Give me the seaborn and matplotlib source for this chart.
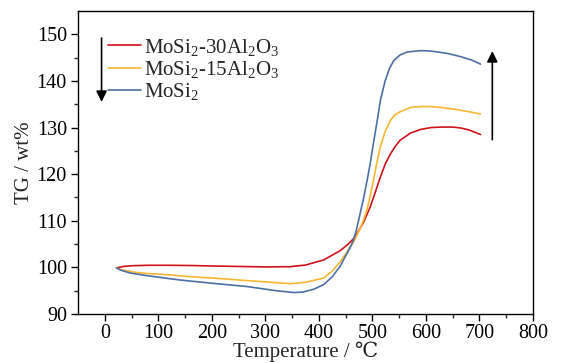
import numpy as np
import pandas as pd
import matplotlib
matplotlib.use('Agg')
import matplotlib.pyplot as plt
import seaborn as sns

# --- data ---
temp_30 = [22, 35, 50, 80, 120, 160, 200, 250, 300, 346, 375, 409, 440, 455, 465, 471, 484,
           496, 505, 515, 524, 534, 543, 552, 571, 590, 610, 630, 650, 665, 680, 702]
tg_30 = [99.9, 100.2, 100.35, 100.45, 100.45, 100.4, 100.3, 100.2, 100.1, 100.15, 100.5,
         101.6, 103.6, 105.0, 106.2, 107.2, 109.8, 113.0, 116.0, 119.4, 122.2, 124.4, 126.0,
         127.3, 128.8, 129.6, 130.0, 130.1, 130.1, 129.9, 129.5, 128.5]

temp_15 = [22, 30, 40, 60, 78, 120, 160, 203, 250, 300, 346, 375, 409, 425, 440, 453, 467,
           478, 484, 490, 496, 502, 508, 515, 524, 534, 543, 552, 571, 590, 610, 630, 660,
           680, 702]
tg_15 = [99.9, 99.5, 99.3, 98.9, 98.7, 98.4, 98.0, 97.7, 97.3, 96.9, 96.5, 96.8, 97.7, 99.2,
         101.2, 103.4, 105.9, 108.6, 110.3, 112.5, 115.3, 118.7, 122.3, 125.9, 129.2, 131.6,
         132.8, 133.4, 134.3, 134.5, 134.5, 134.3, 133.8, 133.4, 132.9]

temp_0 = [22, 30, 47, 80, 140, 200, 265, 320, 353, 370, 390, 409, 425, 440, 452, 460, 465,
          470, 476, 484, 490, 496, 501, 506, 510, 515, 524, 532, 540, 552, 565, 590, 610,
          640, 665, 685, 702]
tg_0 = [99.9, 99.4, 98.8, 98.2, 97.3, 96.6, 95.9, 95.0, 94.6, 94.7, 95.3, 96.3, 98.0, 100.3,
        102.9, 104.6, 106.0, 108.0, 111.0, 115.1, 118.6, 122.3, 126.0, 129.4, 132.2, 135.9,
        140.1, 142.7, 144.4, 145.6, 146.2, 146.5, 146.4, 145.9, 145.2, 144.5, 143.6]

labels = ['MoSi$_2$-30Al$_2$O$_3$', 'MoSi$_2$-15Al$_2$O$_3$', 'MoSi$_2$']
colors = ['#d0121b', '#f7b733', '#4d6fa3']
xticks = [0, 100, 200, 300, 400, 500, 600, 700, 800]
yticks = [90, 100, 110, 120, 130, 140, 150]

sns.set_style('ticks')
plt.rcParams['font.family'] = ['Liberation Serif', 'DejaVu Serif', 'DejaVu Sans']
plt.rcParams['mathtext.fontset'] = 'custom'
plt.rcParams['mathtext.rm'] = 'Liberation Serif'
plt.rcParams['mathtext.it'] = 'Liberation Serif:italic'
plt.rcParams['mathtext.default'] = 'regular'

fig = plt.figure(figsize=(5.61, 3.63), dpi=100)
ax = fig.add_axes([78 / 561, 1 - 314 / 363, 455 / 561, 303 / 363])

series = [(temp_30, tg_30), (temp_15, tg_15), (temp_0, tg_0)]
for (t, w), lab, col in zip(series, labels, colors):
    df = pd.DataFrame({'T': t, 'TG': w})
    sns.lineplot(data=df, x='T', y='TG', color=col, label=lab, lw=1.2, ax=ax)

ax.set_xlim(-50, 800)
ax.set_ylim(90, 155)
ax.set_xticks(xticks)
ax.set_yticks(yticks)
ax.set_xticks(np.arange(50, 800, 100), minor=True)
ax.set_yticks(np.arange(95, 155, 10), minor=True)
ax.tick_params(which='major', direction='out', length=5, width=1, labelsize=14.5,
               colors='black', pad=3)
ax.tick_params(axis='x', which='major', pad=2)
ax.tick_params(which='minor', direction='out', length=3, width=1)
for s in ax.spines.values():
    s.set_linewidth(1)
    s.set_color('black')

ax.set_xlabel('Temperature / ℃', fontsize=15, labelpad=-1)
ax.set_ylabel('TG / wt%', fontsize=15, labelpad=2)

ax.legend(loc='upper left', bbox_to_anchor=(0.065, 0.915), frameon=False, fontsize=15,
          handlelength=1.6, handletextpad=0.15, labelspacing=0.05, borderpad=0,
          borderaxespad=0)

arrow = dict(arrowstyle='-|>', color='black', lw=1.2, mutation_scale=16,
             shrinkA=0, shrinkB=0)
ax.annotate('', xy=(-6, 135.5), xytext=(-6, 149.2), arrowprops=arrow)
ax.annotate('', xy=(724, 146.4), xytext=(724, 127.4), arrowprops=arrow)

fig.savefig('out.png', dpi=100)
